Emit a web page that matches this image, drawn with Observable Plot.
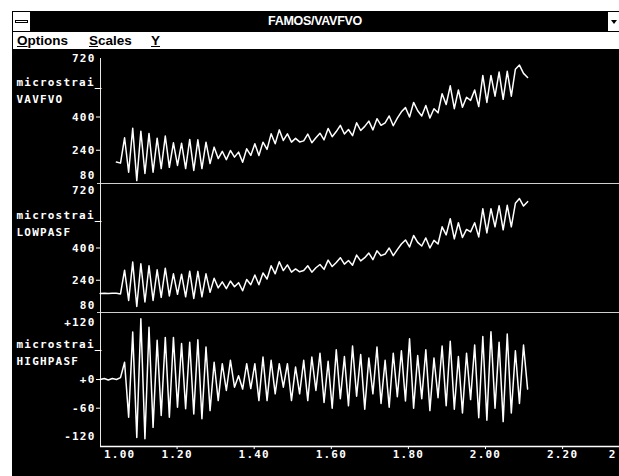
<!DOCTYPE html>
<html><head><meta charset="utf-8">
<script src="https://cdn.jsdelivr.net/npm/d3@7"></script>
<script src="https://cdn.jsdelivr.net/npm/@observablehq/plot@0.6"></script>
<style>
html,body{margin:0;padding:0;background:#fff;width:619px;height:476px;overflow:hidden;}
#win{position:absolute;left:12px;top:11px;width:607px;height:465px;background:#000;}
#title{position:absolute;left:0;top:0;width:607px;height:21px;background:#000;color:#fff;font:bold 12.5px "Liberation Sans",Arial,sans-serif;letter-spacing:-0.3px;}
#title .t{position:absolute;left:0;width:606px;text-align:center;top:3px;}
#sys{position:absolute;left:1px;top:1px;width:17px;height:19px;background:#fff;}
#sys i{position:absolute;left:2px;top:8px;width:11px;height:1px;border:1px solid #000;background:#fff;}
#dd{position:absolute;left:596px;top:1px;width:12px;height:19px;background:#fff;}
#dd i{position:absolute;left:3px;top:8px;width:0;height:0;border-left:3px solid transparent;border-right:3px solid transparent;border-top:4px solid #000;}
#menu{position:absolute;left:0;top:21px;width:606px;height:17px;background:#fff;border-left:1px solid #000;border-bottom:1px solid #000;font:bold 13.5px "Liberation Sans",Arial,sans-serif;color:#000;}
#menu span{position:absolute;top:1px;}
#plots{position:absolute;left:0;top:39px;width:607px;height:426px;background:#000;overflow:hidden;}
#plots svg{position:absolute;left:0;}
</style></head>
<body>
<div id="win">
  <div id="title"><div id="sys"><i></i></div><div class="t">FAMOS/VAVFVO</div><div id="dd"><i></i></div></div>
  <div id="menu"><span style="left:4px"><u>O</u>ptions</span><span style="left:76px"><u>S</u>cales</span><span style="left:138px"><u>Y</u></span></div>
  <div id="plots"></div>
</div>
<script>
// sampling grid (seconds)
const T0 = 1.0004, DT = 0.01056;
const xDomain = [1.0013, 2.3476];

const VAVFVO_START = 4;
const VAVFVO = [183,178,300,134,346,94,332,128,321,134,298,152,308,158,276,167,274,152,292,143,
  290,152,279,176,255,200,235,195,239,207,231,182,247,215,271,215,279,244,319,271,
  338,287,319,279,297,280,
  285,318,276,300,322,290,345,305,330,360,318,340,310,372,335,355,380,338,392,360,
  372,405,358,395,425,445,400,470,430,405,455,395,440,420,
  512,460,550,440,530,447,495,480,530,450,600,470,600,500,616,485,620,500,630,650,
  610,590];

const LOWPASF_START = 0;
const LOWPASF = [174,175,174,175,175,172,290,140,330,110,322,132,312,140,292,155,300,162,272,170,
  270,158,285,150,284,158,272,180,250,202,232,198,236,208,228,188,244,218,266,218,
  276,246,312,272,332,288,316,280,296,282,
  288,312,280,302,318,294,340,308,328,352,320,338,315,365,336,352,375,342,386,362,
  370,400,362,392,420,440,405,462,428,410,450,400,438,420,
  505,465,545,445,525,452,492,480,525,455,595,475,595,505,610,490,612,505,622,645,
  608,630];

const HIGHPASF_START = 0;
const HIGHPASF = [0,2,-1,2,0,4,36,-79,99,-121,127,-124,109,-100,82,-75,88,-79,88,-58,
  75,-61,78,-72,83,-82,68,-65,36,-44,33,-23,40,-16,8,-20,33,-19,33,-44,
  47,-44,40,-30,33,-16,33,-44,26,-30,40,-44,47,-23,55,-48,38,-60,62,-40,
  48,-55,70,-35,52,-62,45,-30,68,-50,40,-58,55,-36,60,-45,85,-60,50,-40,
  62,-65,45,-38,70,-55,80,-62,48,-70,55,-42,72,-80,90,-85,100,-60,78,-88,
  95,-70,60,-50,72,-20];

const xTicks = [1.0, 1.2, 1.4, 1.6, 1.8, 2.0, 2.2, 2.4];
const xTickLabels = ["1.00","1.20","1.40","1.60","1.80","2.00","2.20","2"];

const unitLabel = "microstrai_";
const panelNames = ["VAVFVO", "LOWPASF", "HIGHPASF"];
const yDomains = [[80, 720], [80, 720], [-140, 140]];
const yTicksTop = [720, 720, 120];
const yTicksMid = [[400, 240], [400, 240], [0, -60]];
const yTicksBottom = [80, 80, -120];
const yTickText = {"120": "+120", "0": "+0", "-60": "-60", "-120": "-120"};

const WHITE = "#ffffff", DIV = "#cfcfcf";
const FONT = "bold 11px 'DejaVu Sans Mono', monospace";

function series(vals, start) {
  return vals.map((v, k) => ({t: T0 + (start + k) * DT, v}));
}
const fmt = d => yTickText[String(d)] ?? String(d);

const layout = [
  {top: 0, height: 133, mb: 0, topDy: 8, botDy: -8, topInset: 8},
  {top: 133, height: 129, mb: 0, topDy: 7, botDy: -7, topInset: 0},
  {top: 262, height: 164, mb: 30, topDy: 0, botDy: 0, topInset: 0}
];
const datasets = [series(VAVFVO, VAVFVO_START), series(LOWPASF, LOWPASF_START), series(HIGHPASF, HIGHPASF_START)];

const host = document.getElementById("plots");
for (let p = 0; p < 3; p++) {
  const L = layout[p];
  const marks = [
    Plot.ruleX([xDomain[0]], {stroke: "#e8e8e8", insetTop: L.topInset}),
    Plot.axisY({ticks: yTicksMid[p], tickSize: 4, tickPadding: 1, tickFormat: fmt, fill: WHITE, stroke: WHITE, label: null}),
    Plot.text([yTicksTop[p]], {y: d => d, text: fmt, frameAnchor: "left", textAnchor: "end", dx: -5, dy: L.topDy, fill: WHITE}),
    Plot.text([yTicksBottom[p]], {y: d => d, text: fmt, frameAnchor: "left", textAnchor: "end", dx: -5, dy: L.botDy, fill: WHITE}),
    Plot.text([unitLabel], {frameAnchor: "top-left", textAnchor: "start", dx: -84, dy: 28, fill: WHITE}),
    Plot.text([panelNames[p]], {frameAnchor: "top-left", textAnchor: "start", dx: -84, dy: 44.5, fill: WHITE}),
    Plot.line(datasets[p], {x: "t", y: "v", stroke: WHITE, strokeWidth: 1.5})
  ];
  if (p < 2) {
    marks.unshift(Plot.ruleY([yDomains[p][0]], {stroke: DIV, strokeWidth: 1.2, insetLeft: -3}));
  } else {
    marks.push(
      Plot.ruleY([yDomains[p][0]], {stroke: WHITE, strokeWidth: 1.6}),
      Plot.axisX({ticks: xTicks.slice(1, 7), tickSize: 3, tickFormat: () => "", stroke: WHITE, label: null}),
      Plot.text(xTicks.slice(1, 7), {x: d => d, text: (d, i) => xTickLabels[i + 1], frameAnchor: "bottom", dy: 11, fill: WHITE}),
      Plot.text([xTicks[0]], {x: d => d, text: () => xTickLabels[0], frameAnchor: "bottom", textAnchor: "start", dy: 11, dx: 4, fill: WHITE}),
      Plot.text([xTicks[7]], {x: d => d, text: () => xTickLabels[7], frameAnchor: "bottom", textAnchor: "start", dy: 11, dx: -31, fill: WHITE})
    );
  }
  const svg = Plot.plot({
    width: 607, height: L.height,
    marginLeft: 88, marginRight: 0, marginTop: 0, marginBottom: L.mb,
    x: {domain: xDomain, axis: null},
    y: {domain: yDomains[p], axis: null},
    style: {background: "transparent", color: WHITE, overflow: "visible", font: FONT, letterSpacing: "1.2px"},
    marks
  });
  svg.style.top = L.top + "px";
  host.appendChild(svg);
}
</script>
</body></html>
